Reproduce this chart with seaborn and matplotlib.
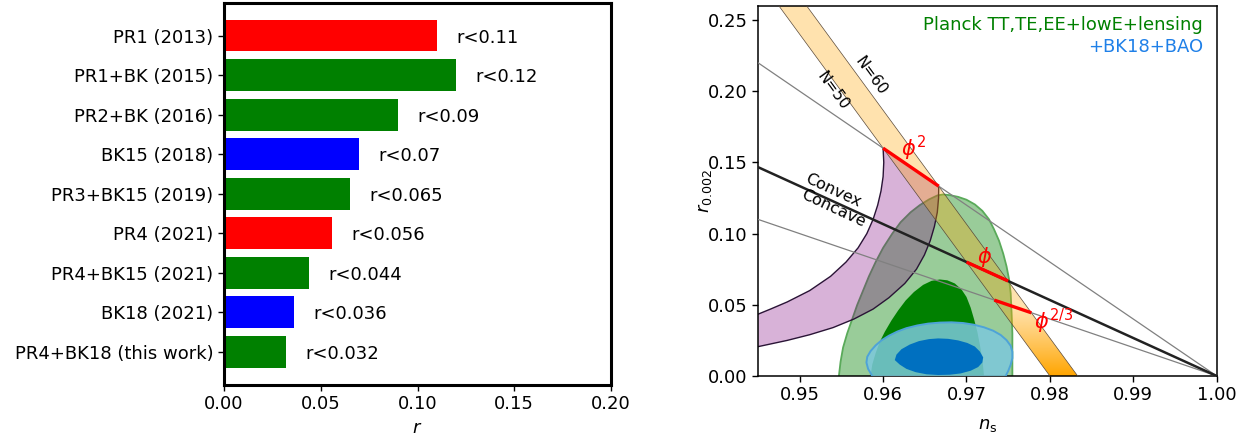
import numpy as np
import matplotlib
matplotlib.use("Agg")
import matplotlib.pyplot as plt
from matplotlib.patches import Polygon
from matplotlib.colors import to_rgb
import seaborn as sns

# ---------------- left panel: upper limits on r ----------------
datasets = ["PR1 (2013)", "PR1+BK (2015)", "PR2+BK (2016)", "BK15 (2018)",
            "PR3+BK15 (2019)", "PR4 (2021)", "PR4+BK15 (2021)", "BK18 (2021)",
            "PR4+BK18 (this work)"]
r_limits = [0.11, 0.12, 0.09, 0.07, 0.065, 0.056, 0.044, 0.036, 0.032]
bar_colors = ["red", "green", "green", "blue", "green", "red", "green",
              "blue", "green"]
r_ticks = [0.00, 0.05, 0.10, 0.15, 0.20]

# ---------------- right panel: ns - r plane ----------------
ns_ticks = [0.95, 0.96, 0.97, 0.98, 0.99, 1.00]
r2_ticks = [0.00, 0.05, 0.10, 0.15, 0.20, 0.25]

# Planck TT,TE,EE+lowE+lensing, 95% and 68% regions
planck95_ns = [0.9547, 0.9549, 0.9552, 0.9557, 0.9563, 0.9569, 0.9576, 0.9583,
               0.9591, 0.9600, 0.9611, 0.9621, 0.9633, 0.9644, 0.9655, 0.9665,
               0.9672, 0.9680, 0.9690, 0.9700, 0.9710, 0.9719, 0.9727, 0.9733,
               0.9739, 0.9744, 0.9748, 0.9751, 0.9753, 0.9754, 0.9755, 0.9755,
               0.9755]
planck95_r = [0.000, 0.010, 0.020, 0.030, 0.040, 0.050, 0.060, 0.070,
              0.080, 0.090, 0.100, 0.108, 0.115, 0.120, 0.124, 0.1268,
              0.1275, 0.1270, 0.1258, 0.1238, 0.1205, 0.1160, 0.1100, 0.1030,
              0.0950, 0.0860, 0.0770, 0.0680, 0.0580, 0.0450, 0.0300, 0.0150,
              0.000]
planck68_ns = [0.9585, 0.9587, 0.9591, 0.9596, 0.9602, 0.9610, 0.9618, 0.9627,
               0.9637, 0.9648, 0.9658, 0.9668, 0.9677, 0.9686, 0.9694, 0.9700,
               0.9705, 0.9709, 0.9713, 0.9716, 0.9719, 0.9721]
planck68_r = [0.000, 0.008, 0.016, 0.024, 0.031, 0.039, 0.046, 0.053,
              0.059, 0.064, 0.0668, 0.0678, 0.0672, 0.0650, 0.0608, 0.0555,
              0.048, 0.040, 0.031, 0.022, 0.012, 0.000]

# +BK18+BAO, 95% and 68% regions
bk95_ns = [0.9587, 0.9582, 0.9580, 0.9581, 0.9585, 0.9591, 0.9598, 0.9607,
           0.9617, 0.9628, 0.9641, 0.9654, 0.9668, 0.9682, 0.9696, 0.9709,
           0.9721, 0.9732, 0.9741, 0.9748, 0.9753, 0.9755, 0.9755, 0.9753,
           0.9750, 0.9747]
bk95_r = [0.000, 0.005, 0.0095, 0.0135, 0.0175, 0.0215, 0.0250, 0.0283,
          0.0312, 0.0336, 0.0355, 0.0368, 0.0375, 0.0377, 0.0372, 0.0360,
          0.0342, 0.0318, 0.0288, 0.0252, 0.0212, 0.0170, 0.0125, 0.0080,
          0.0035, 0.000]
bk68_ns = [0.9614, 0.9616, 0.9622, 0.9632, 0.9643, 0.9655, 0.9666, 0.9678,
           0.9690, 0.9701, 0.9710, 0.9716, 0.9720, 0.9719, 0.9714, 0.9705,
           0.9693, 0.9680, 0.9666, 0.9652, 0.9639, 0.9628, 0.9620]
bk68_r = [0.0112, 0.0150, 0.0188, 0.0221, 0.0245, 0.0259, 0.0264, 0.0261,
          0.0250, 0.0232, 0.0207, 0.0172, 0.0131, 0.0095, 0.0063, 0.0037,
          0.0018, 0.0009, 0.0007, 0.0012, 0.0027, 0.0050, 0.0080]

# natural inflation, N=50 and N=60 curves
natural50_ns = [0.96000, 0.96008, 0.96000, 0.95975, 0.95935, 0.95880, 0.95805,
                0.95700, 0.95555, 0.95370, 0.95120, 0.94850, 0.94650, 0.94500]
natural50_r = [0.1600, 0.1500, 0.1400, 0.1300, 0.1200, 0.1100, 0.1000,
               0.0900, 0.0800, 0.0700, 0.0600, 0.0520, 0.0470, 0.0434]
natural60_ns = [0.96667, 0.96665, 0.96650, 0.96615, 0.96565, 0.96495, 0.96400,
                0.96260, 0.96070, 0.95880, 0.95650, 0.95400, 0.95120, 0.94850,
                0.94500]
natural60_r = [0.1333, 0.1250, 0.1150, 0.1050, 0.0950, 0.0850, 0.0750,
               0.0650, 0.0550, 0.0470, 0.0400, 0.0340, 0.0290, 0.0250,
               0.0206]

# monomial potentials band edges, N=50 and N=60
mono50_ns = [0.9475, 0.9800]
mono50_r = [0.26, 0.00]
mono60_ns = [0.95083, 0.98333]
mono60_r = [0.26, 0.00]

# straight reference lines meeting at (1, 0)
ref_ns = [0.945, 1.000]
ref_steep_r = [0.220, 0.000]
ref_shallow_r = [0.110, 0.000]
convex_r = [0.1467, 0.000]

# power-law segments from N=50 to N=60
seg_labels = [r"$\phi^2$", r"$\phi$", r"$\phi^{2/3}$"]
seg_ns = [[0.9600, 0.96667], [0.9700, 0.9750], [0.97333, 0.97778]]
seg_r = [[0.1600, 0.1333], [0.0800, 0.0667], [0.0533, 0.0444]]
seg_label_ns = [0.9621, 0.9712, 0.9781]
seg_label_r = [0.160, 0.0836, 0.0385]

sns.set_style("ticks")
plt.rcParams["font.family"] = ["DejaVu Sans"]
plt.rcParams["mathtext.fontset"] = "dejavusans"
for key in ["text.color", "axes.labelcolor", "xtick.color", "ytick.color",
            "axes.edgecolor"]:
    plt.rcParams[key] = "black"

FS = 13
fig = plt.figure(figsize=(12.52, 4.41), dpi=100)

# ---------------- left panel ----------------
ax1 = fig.add_axes([224 / 1252, (441 - 385) / 441, 387 / 1252, 382.5 / 441])
sns.barplot(x=r_limits, y=datasets, hue=datasets, palette=bar_colors,
            legend=False, orient="h", saturation=1, width=0.8,
            linewidth=0, ax=ax1)
for i, v in enumerate(r_limits):
    ax1.text(v + 0.01, i + 0.05, f"r<{v}", va="center", ha="left", fontsize=FS)
ax1.set_xlim(0, 0.2)
ax1.set_ylim(len(datasets) - 1 + 0.84, -0.84)
ax1.set_xticks(r_ticks)
ax1.set_xticklabels([f"{t:.2f}" for t in r_ticks])
ax1.set_ylabel("")
ax1.set_xlabel("$r$", fontsize=FS)
ax1.xaxis.set_label_coords(0.5, -0.088)
ax1.tick_params(labelsize=FS, width=1.0, length=4)
for s in ax1.spines.values():
    s.set_visible(True)
    s.set_linewidth(2.2)
    s.set_color("black")

# ---------------- right panel ----------------
ax2 = fig.add_axes([758 / 1252, (441 - 376) / 441, 458.7 / 1252, 370.2 / 441])

ax2.fill(planck95_ns, planck95_r, facecolor="green", alpha=0.4,
         edgecolor="none", zorder=1)
ax2.plot(planck95_ns, planck95_r, color="#5aaa5a", lw=1.3, zorder=1.1)
ax2.fill(planck68_ns, planck68_r, facecolor="green", edgecolor="none", zorder=1.2)

# natural inflation band
nat_ns = natural50_ns + natural60_ns[::-1]
nat_r = natural50_r + natural60_r[::-1]
ax2.fill(nat_ns, nat_r, facecolor="purple", alpha=0.3, edgecolor="none", zorder=2)
ax2.plot(natural50_ns, natural50_r, color="#2a1436", lw=1.0, zorder=2.1)
ax2.plot(natural60_ns, natural60_r, color="#2a1436", lw=1.0, zorder=2.1)

# monomial band with a colour gradient toward r = 0
band = Polygon(np.column_stack([mono50_ns + mono60_ns[::-1],
                                mono50_r + mono60_r[::-1]]),
               closed=True, facecolor="none", edgecolor="none")
ax2.add_patch(band)
rr = np.linspace(0, 0.26, 400)
alpha_prof = np.clip(1.0 - rr / 0.05, 0, 1) ** 1.2 * 0.68 + 0.32
img = np.zeros((rr.size, 2, 4))
img[..., :3] = to_rgb("orange")
img[..., 3] = alpha_prof[:, None]
im = ax2.imshow(img, extent=[0.945, 1.0, 0, 0.26], origin="lower",
                aspect="auto", zorder=2.5, interpolation="bilinear")
im.set_clip_path(band)
ax2.plot(mono50_ns, mono50_r, color="#5a4a3a", lw=0.5, zorder=2.6)
ax2.plot(mono60_ns, mono60_r, color="#5a4a3a", lw=0.5, zorder=2.6)

# BK18+BAO
ax2.fill(bk95_ns, bk95_r, facecolor="#7cc8dc", alpha=0.85, edgecolor="none",
         zorder=3)
ax2.plot(bk95_ns, bk95_r, color="#4ea3d8", lw=1.4, zorder=3.1)
ax2.fill(bk68_ns, bk68_r, facecolor="#0070c0", edgecolor="none", zorder=3.2)

# reference lines
sns.lineplot(x=ref_ns, y=ref_steep_r, color="gray", lw=0.9, ax=ax2, zorder=4)
sns.lineplot(x=ref_ns, y=ref_shallow_r, color="gray", lw=0.9, ax=ax2, zorder=4)
sns.lineplot(x=ref_ns, y=convex_r, color="#222222", lw=1.8, ax=ax2, zorder=4.1)

for xs, ys, lab, lx, ly in zip(seg_ns, seg_r, seg_labels, seg_label_ns, seg_label_r):
    ax2.plot(xs, ys, color="red", lw=2.4, zorder=5, solid_capstyle="butt")
    ax2.text(lx, ly, lab, color="red", fontsize=15, ha="left", va="center",
             zorder=6)

ax2.text(0.9585, 0.2109, "N=60", rotation=-54, rotation_mode="anchor",
         ha="center", va="center", fontsize=11, zorder=6)
ax2.text(0.9540, 0.2004, "N=50", rotation=-54, rotation_mode="anchor",
         ha="center", va="center", fontsize=11, zorder=6)
ax2.text(0.9540, 0.1303, "Convex", rotation=-25, rotation_mode="anchor",
         ha="center", va="center", fontsize=11.5, zorder=6)
ax2.text(0.9540, 0.1175, "Concave", rotation=-25, rotation_mode="anchor",
         ha="center", va="center", fontsize=11.5, zorder=6)

ax2.text(0.97, 0.948, "Planck TT,TE,EE+lowE+lensing", transform=ax2.transAxes,
         ha="right", va="center", color="green", fontsize=FS)
ax2.text(0.97, 0.889, "+BK18+BAO", transform=ax2.transAxes,
         ha="right", va="center", color="#1f80e8", fontsize=FS)

ax2.set_xlim(0.945, 1.0)
ax2.set_ylim(0, 0.26)
ax2.set_xticks(ns_ticks)
ax2.set_xticklabels([f"{t:.2f}" for t in ns_ticks])
ax2.set_yticks(r2_ticks)
ax2.set_yticklabels([f"{t:.2f}" for t in r2_ticks])
ax2.tick_params(labelsize=FS, width=1.0, length=4)
ax2.set_xlabel(r"$n_\mathrm{s}$", fontsize=FS)
ax2.set_ylabel(r"$r_{0.002}$", fontsize=FS)
ax2.xaxis.set_label_coords(0.5, -0.108)
ax2.yaxis.set_label_coords(-0.096, 0.50)
for s in ax2.spines.values():
    s.set_visible(True)
    s.set_linewidth(1.1)
    s.set_color("black")

fig.savefig("out.png", dpi=100)
